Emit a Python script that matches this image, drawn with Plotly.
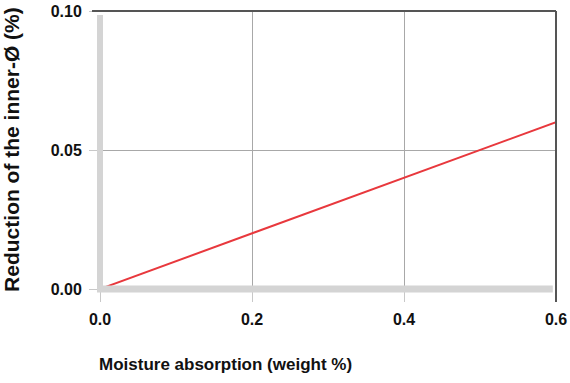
import plotly.graph_objects as go

# Data
moisture = [0.0, 0.2, 0.4, 0.6]          # weight %
reduction = [0.0, 0.02, 0.04, 0.06]      # %
x_ticks = [0.0, 0.2, 0.4, 0.6]
x_tick_labels = ["0.0", "0.2", "0.4", "0.6"]
y_ticks = [0.00, 0.05, 0.10]
y_tick_labels = ["0.00", "0.05", "0.10"]
x_title = "Moisture absorption (weight %)"
y_title = "Reduction of the inner-Ø (%)"

FONT = "Liberation Sans, Arial, sans-serif"

fig = go.Figure()
fig.add_trace(go.Scatter(x=moisture, y=reduction, mode="lines",
                         line=dict(color="#e8383d", width=2),
                         hoverinfo="skip", showlegend=False))

fig.update_layout(
    width=570, height=383,
    margin=dict(l=100, r=14, t=11, b=94),
    paper_bgcolor="white", plot_bgcolor="white",
    font=dict(family=FONT, color="#111"),
    xaxis=dict(range=[0, 0.6], tickvals=x_ticks, ticktext=x_tick_labels,
               automargin=False,
               showgrid=True, gridcolor="#a8a8a8", gridwidth=1,
               zeroline=False, showline=False,
               ticks="outside", ticklen=12, tickcolor="#c8c8c8", tickwidth=1,
               ticklabelstandoff=4,
               tickfont=dict(family=FONT, size=16, color="#111", weight="bold")),
    yaxis=dict(range=[0, 0.1], tickvals=y_ticks, ticktext=y_tick_labels,
               automargin=False,
               showgrid=True, gridcolor="#a8a8a8", gridwidth=1,
               zeroline=False, showline=False,
               ticks="outside", ticklen=10, tickcolor="#c8c8c8", tickwidth=1,
               ticklabelstandoff=4,
               tickfont=dict(family=FONT, size=16, color="#111", weight="bold")),
    shapes=[
        # thick grey axis bars
        dict(type="line", xref="paper", yref="paper", x0=0, x1=0, y0=-0.011, y1=0.986,
             line=dict(color="#d4d4d4", width=6), layer="above"),
        dict(type="line", xref="paper", yref="paper", x0=-0.0066, x1=0.993, y0=0, y1=0,
             line=dict(color="#d4d4d4", width=7), layer="above"),
        # dark top and right frame lines
        dict(type="line", xref="paper", yref="paper", x0=-0.0175, x1=1, y0=1, y1=1,
             line=dict(color="#555555", width=2), layer="above"),
        dict(type="line", xref="paper", yref="paper", x0=1, x1=1, y0=-0.047, y1=1,
             line=dict(color="#555555", width=2), layer="above"),
    ],
    annotations=[
        dict(text=x_title, xref="paper", yref="paper", x=-0.0066, y=-0.27,
             xanchor="left", yanchor="middle", showarrow=False,
             font=dict(family=FONT, size=17, color="#111", weight="bold")),
        dict(text=y_title, xref="paper", yref="paper", x=-0.193, y=0.504,
             xanchor="center", yanchor="middle", showarrow=False, textangle=-90,
             font=dict(family=FONT, size=21, color="#111", weight="bold")),
    ],
)

fig.write_html("out.html")
